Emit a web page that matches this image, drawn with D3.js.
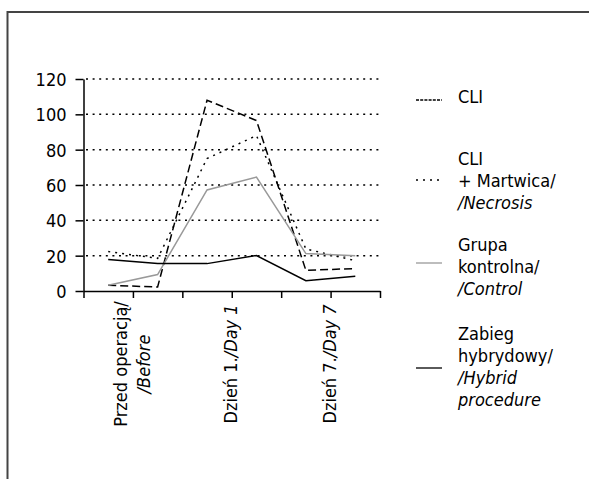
<!DOCTYPE html>
<html>
<head>
<meta charset="utf-8">
<script src="https://cdn.jsdelivr.net/npm/d3@7"></script>
<style>
	body { margin: 0; background: #fff; }
	svg { display: block; }
	text { font-family: "Liberation Sans Narrow", "Arial Narrow", "DejaVu Sans Condensed", sans-serif; font-size: 18px; fill: #000; }
	.it { font-style: italic; }
</style>
</head>
<body>
<script>
// six measurement points, three labelled time points
var points = [0, 1, 2, 3, 4, 5];
var timeLabels = [
	{ at: 1, lines: [["Przed operacją/", ""], ["", "/Before"]] },
	{ at: 3, lines: [["Dzień 1.", "/Day 1"]] },
	{ at: 5, lines: [["Dzień 7.", "/Day 7"]] }
];
var yTicks = [0, 20, 40, 60, 80, 100, 120];

var cli = [3.2, 2.3, 108, 96.5, 11.7, 12.7];
var cliNecrosis = [22.3, 18.5, 75, 88, 23.8, 17.2];
var control = [3.2, 9.3, 57.2, 64.5, 21.2, 19.9];
var hybrid = [17.8, 15.5, 15.5, 20.1, 5.8, 8.3];

var series = [
	{ name: [["CLI", ""]], values: cli, stroke: "#000", dash: "8,4", legendDash: "3,1.2", ly: 100, ty: 103 },
	{ name: [["CLI", ""], ["+ Martwica/", ""], ["", "/Necrosis"]], values: cliNecrosis, stroke: "#000", dash: "2,5", legendDash: "2,5", ly: 180, ty: 165 },
	{ name: [["Grupa", ""], ["kontrolna/", ""], ["", "/Control"]], values: control, stroke: "#999", dash: null, legendDash: null, ly: 263, ty: 251 },
	{ name: [["Zabieg", ""], ["hybrydowy/", ""], ["", "/Hybrid"], ["", "procedure"]], values: hybrid, stroke: "#000", dash: null, legendDash: null, ly: 368, ty: 340 }
];

var W = 589, H = 479;
var svg = d3.select("body").append("svg").attr("width", W).attr("height", H);

// frame
svg.append("path")
	.attr("d", "M7.5," + H + "V12H" + W)
	.attr("fill", "none").attr("stroke", "#444").attr("stroke-width", 2);

var x = d3.scaleLinear().domain([0, 6]).range([83.5, 380]);
var y = d3.scaleLinear().domain([0, 120]).range([291, 79]);

// dotted grid
svg.append("g").selectAll("line")
	.data(yTicks.filter(function(d) { return d > 0; }))
	.enter().append("line")
	.attr("x1", 86).attr("x2", 380)
	.attr("y1", function(d) { return y(d); })
	.attr("y2", function(d) { return y(d); })
	.attr("stroke", "#000").attr("stroke-width", 1.5)
	.attr("stroke-dasharray", "2,4.6");

// y axis
var gy = svg.append("g").attr("transform", "translate(83.5,0)")
	.call(d3.axisLeft(y).tickValues(yTicks).tickSize(8).tickSizeOuter(0).tickPadding(9));
gy.selectAll("path, line").attr("stroke", "#000").attr("stroke-width", 1.5);
gy.selectAll("text").attr("font-size", null).attr("font-family", null).attr("dy", "0.36em");

// x axis
var gx = svg.append("g").attr("transform", "translate(0," + y(0) + ")")
	.call(d3.axisBottom(x).tickValues(d3.range(7)).tickSize(7).tickSizeOuter(0).tickFormat(""));
gx.selectAll("path, line").attr("stroke", "#000").attr("stroke-width", 1.5);

// x labels, rotated
var lab = svg.append("g").selectAll("text")
	.data(timeLabels).enter().append("text")
	.attr("text-anchor", "middle")
	.attr("transform", function(d) {
		var off = d.lines.length === 1 ? 5 : -6;
		return "translate(" + (x(d.at) + off) + ",364) rotate(-90)";
	});
lab.each(function(d) {
	var t = d3.select(this);
	d.lines.forEach(function(l, i) {
		var ts = t.append("tspan").attr("x", 0).attr("dy", i === 0 ? 0 : 23);
		if (l[0]) ts.append("tspan").text(l[0]);
		if (l[1]) ts.append("tspan").attr("class", "it").text(l[1]);
	});
});

// lines
var line = d3.line()
	.x(function(d, i) { return x(points[i] + 0.5); })
	.y(function(d) { return y(d); });

svg.append("g").selectAll("path")
	.data(series).enter().append("path")
	.attr("d", function(d) { return line(d.values); })
	.attr("fill", "none")
	.attr("stroke", function(d) { return d.stroke; })
	.attr("stroke-width", 1.5)
	.attr("stroke-dasharray", function(d) { return d.dash; });

// legend
var leg = svg.append("g").selectAll("g")
	.data(series).enter().append("g");
leg.append("line")
	.attr("x1", 416).attr("x2", 442)
	.attr("y1", function(d) { return d.ly; })
	.attr("y2", function(d) { return d.ly; })
	.attr("stroke", function(d) { return d.stroke; })
	.attr("stroke-width", 1.3)
	.attr("stroke-dasharray", function(d) { return d.legendDash; });
leg.append("text")
	.attr("x", 458)
	.attr("y", function(d) { return d.ty; })
	.each(function(d) {
		var t = d3.select(this);
		d.name.forEach(function(l, i) {
			var ts = t.append("tspan").attr("x", 458).attr("dy", i === 0 ? 0 : 22);
			if (l[0]) ts.append("tspan").text(l[0]);
			if (l[1]) ts.append("tspan").attr("class", "it").text(l[1]);
		});
	});
</script>
</body>
</html>
